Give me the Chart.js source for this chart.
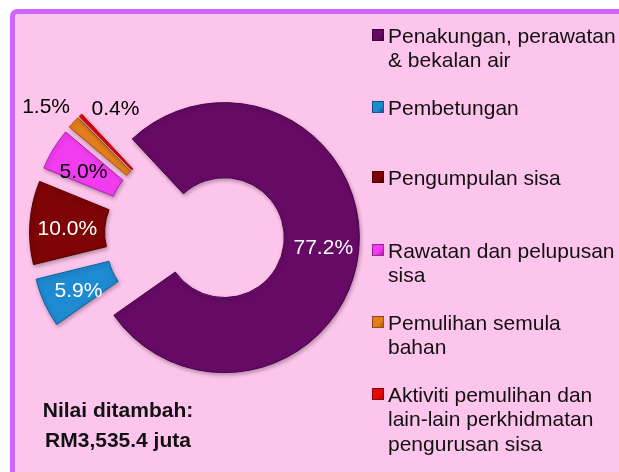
<!DOCTYPE html>
<html><head><meta charset="utf-8">
<script src="https://cdn.jsdelivr.net/npm/chart.js@4"></script>
<style>
html,body{margin:0;padding:0;width:619px;height:472px;overflow:hidden;background:#fff;font-family:"Liberation Sans",Arial,sans-serif;}
#frame{position:absolute;left:10px;top:9px;width:700px;height:600px;box-sizing:border-box;border:5px solid #CC66FF;border-radius:7px;background:#FEC5EC;}
#wrap{position:absolute;left:14px;top:54px;width:361px;height:361px;}
#legend{position:absolute;left:372px;top:0;width:250px;height:472px;}
.item{position:absolute;left:0;white-space:nowrap;font-size:21px;line-height:24.5px;color:#111;}
.box{position:absolute;left:0;top:5.5px;width:12px;height:12px;box-sizing:border-box;border:1px solid rgba(0,0,0,0.35);}
.txt{position:absolute;left:16px;top:0;}
#note{position:absolute;left:18px;top:395px;width:200px;text-align:center;font-weight:bold;font-size:21px;line-height:30px;color:#111;}
</style></head>
<body>
<div id="frame"></div>
<div id="wrap"><canvas id="c"></canvas></div>
<div id="legend"></div>
<div id="note">Nilai ditambah:<br>RM3,535.4 juta</div>
<script>
const categories = [
  ["Penakungan, perawatan", "& bekalan air"],
  ["Pembetungan"],
  ["Pengumpulan sisa"],
  ["Rawatan dan pelupusan", "sisa"],
  ["Pemulihan semula", "bahan"],
  ["Aktiviti pemulihan dan", "lain-lain perkhidmatan", "pengurusan sisa"]
];
const shares = [77.2, 5.9, 10.0, 5.0, 1.5, 0.4];
const valueLabels = ["77.2%", "5.9%", "10.0%", "5.0%", "1.5%", "0.4%"];

const sliceColors = ["#660A66", "#1E8AD2", "#7E0406", "#F23CF0", "#E47E1C", "#E00A0A"];
const sliceBorders = ["#4A004A", "#0E5E96", "#560000", "#B020B0", "#A85408", "#C00000"];
const labelColors = ["#ffffff", "#ffffff", "#ffffff", "#000000", "#000000", "#000000"];
const labelNudge = [[2, 0], [0, 4], [0, 4], [-2, 4], [-55, -41], [9, -33]];
const legendTops = [23.5, 95.5, 165.5, 238.5, 310.5, 382.5];
const explodeDistance = 30;

// HTML legend built from the same arrays
const legend = document.getElementById('legend');
categories.forEach((lines, i) => {
  const it = document.createElement('div');
  it.className = 'item';
  it.style.top = legendTops[i] + 'px';
  const b = document.createElement('div');
  b.className = 'box';
  b.style.background = `linear-gradient(135deg, ${sliceColors[i]} 0%, ${sliceColors[i]} 60%, ${sliceBorders[i]} 100%)`;
  const t = document.createElement('div');
  t.className = 'txt';
  t.innerHTML = lines.join('<br>');
  it.appendChild(b); it.appendChild(t);
  legend.appendChild(it);
});

// Draw each arc element of the library, moved outward along its bisector (exploded doughnut)
const explode = {
  id: 'explode',
  beforeDatasetDraw(chart, args, opts) {
    const ctx = chart.ctx;
    args.meta.data.forEach(arc => {
      const p = arc.getProps(['startAngle', 'endAngle']);
      const mid = (p.startAngle + p.endAngle) / 2;
      ctx.save();
      ctx.shadowColor = 'rgba(0,0,0,0.30)';
      ctx.shadowBlur = 4;
      ctx.shadowOffsetX = 1;
      ctx.shadowOffsetY = 2;
      ctx.translate(Math.cos(mid) * opts.distance, Math.sin(mid) * opts.distance);
      arc.draw(ctx, chart.chartArea);
      ctx.restore();
    });
    return false;
  }
};

const sliceLabels = {
  id: 'sliceLabels',
  afterDatasetsDraw(chart, args, opts) {
    const ctx = chart.ctx;
    const meta = chart.getDatasetMeta(0);
    ctx.save();
    ctx.font = '21px "Liberation Sans", Arial, sans-serif';
    ctx.textAlign = 'center';
    ctx.textBaseline = 'middle';
    meta.data.forEach((arc, i) => {
      const p = arc.getProps(['x', 'y', 'startAngle', 'endAngle', 'innerRadius', 'outerRadius']);
      const mid = (p.startAngle + p.endAngle) / 2;
      const r = (p.innerRadius + p.outerRadius) / 2 + opts.distance;
      const x = p.x + Math.cos(mid) * r + labelNudge[i][0];
      const y = p.y + Math.sin(mid) * r + labelNudge[i][1];
      ctx.fillStyle = labelColors[i];
      ctx.fillText(valueLabels[i], x, y);
    });
    ctx.restore();
  }
};

new Chart(document.getElementById('c'), {
  type: 'doughnut',
  data: {
    labels: categories,
    datasets: [{
      data: shares,
      backgroundColor: sliceColors,
      borderColor: sliceBorders,
      borderWidth: 1,
      hoverBorderWidth: 0,
      hoverOffset: 0,
      offset: 0
    }]
  },
  options: {
    responsive: true,
    maintainAspectRatio: false,
    animation: false,
    events: [],
    rotation: -43,
    cutout: '44.4%',
    layout: { padding: 45 },
    plugins: {
      legend: { display: false },
      tooltip: { enabled: false },
      explode: { distance: explodeDistance },
      sliceLabels: { distance: explodeDistance }
    }
  },
  plugins: [explode, sliceLabels]
});
</script>
</body></html>
